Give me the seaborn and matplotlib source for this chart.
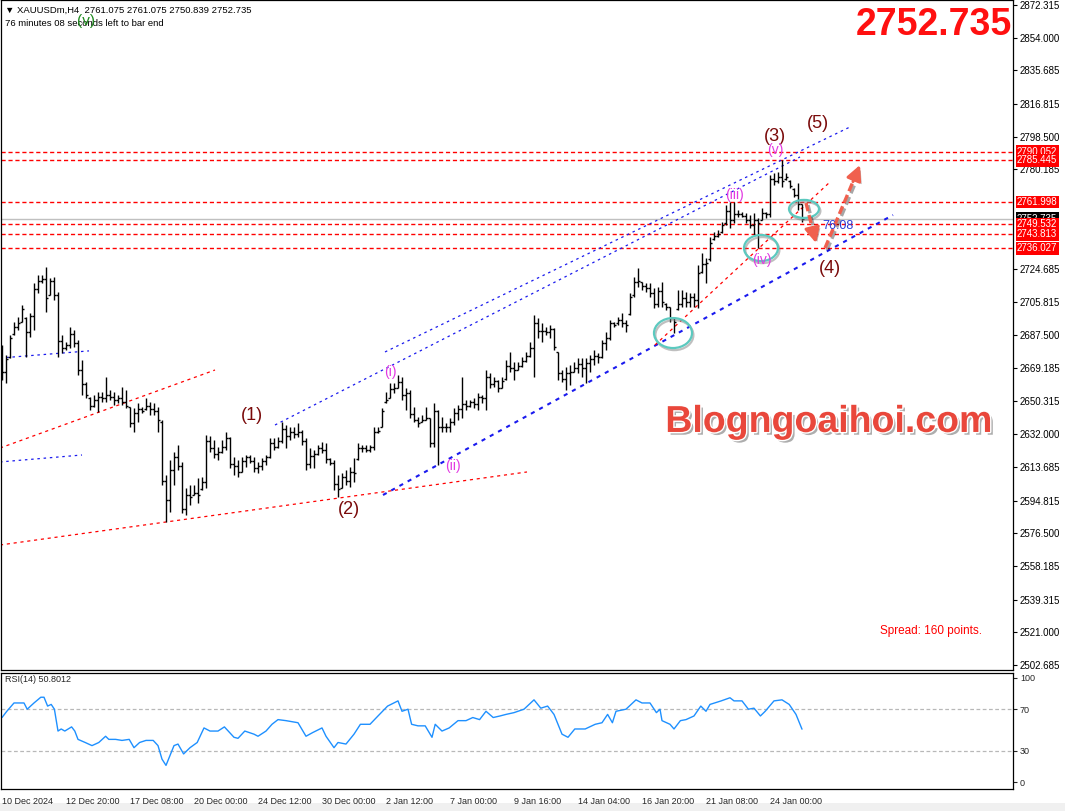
import matplotlib
matplotlib.use("Agg")
import matplotlib.pyplot as plt
import matplotlib.patheffects as pe
from matplotlib.patches import Ellipse, Rectangle
from matplotlib.transforms import blended_transform_factory
import seaborn as sns

# ---------------- data ----------------
highs = [
    2681.9, 2676.3, 2687.5, 2694.8, 2697.6, 2704.3, 2697.6, 2699.8, 2716.6, 2721.1,
    2721.1, 2725.6, 2719.4, 2720.0, 2711.6, 2687.5, 2683.6, 2692.0, 2690.3, 2684.7,
    2673.5, 2661.2, 2652.8, 2653.9, 2655.6, 2655.6, 2664.0, 2656.7, 2655.6, 2653.9,
    2658.4, 2656.7, 2647.2, 2646.6, 2649.4, 2647.2, 2652.2, 2650.0, 2649.4, 2647.2,
    2639.9, 2609.1, 2617.5, 2622.0, 2625.9, 2616.4, 2601.8, 2603.5, 2603.5, 2607.4,
    2608.0, 2631.5, 2630.9, 2628.7, 2624.8, 2628.7, 2633.2, 2630.4, 2619.2, 2617.5,
    2619.2, 2620.3, 2620.3, 2619.2, 2616.4, 2618.6, 2620.3, 2629.8, 2629.8, 2630.4,
    2638.8, 2637.1, 2636.0, 2636.0, 2638.2, 2634.3, 2629.8, 2624.2, 2623.1, 2625.9,
    2627.6, 2627.0, 2618.6, 2617.5, 2609.1, 2610.2, 2611.9, 2613.6, 2618.6, 2627.0,
    2625.9, 2625.9, 2625.9, 2636.0, 2636.0, 2646.6, 2655.6, 2660.6, 2660.6, 2665.1,
    2664.0, 2657.8, 2656.7, 2647.2, 2641.6, 2642.7, 2647.2, 2641.0, 2649.4, 2645.5,
    2641.6, 2638.2, 2641.0, 2646.6, 2648.3, 2664.0, 2651.1, 2651.1, 2652.2, 2655.0,
    2653.9, 2667.9, 2666.2, 2664.0, 2662.3, 2664.0, 2673.5, 2678.0, 2672.4, 2672.4,
    2675.2, 2678.0, 2683.6, 2698.7, 2697.0, 2694.2, 2692.0, 2693.1, 2691.4, 2678.0,
    2667.9, 2669.6, 2670.7, 2672.4, 2674.6, 2674.6, 2674.6, 2676.3, 2679.1, 2677.4,
    2684.7, 2689.2, 2695.9, 2694.8, 2697.6, 2699.8, 2695.9, 2711.0, 2720.0, 2725.0,
    2717.2, 2716.6, 2716.6, 2713.8, 2714.4, 2717.2, 2705.4, 2703.2, 2697.0, 2712.7,
    2712.7, 2711.6, 2711.0, 2711.0, 2726.7, 2733.4, 2730.6, 2742.4, 2745.2, 2746.3,
    2750.8, 2760.3, 2762.0, 2762.0, 2757.5, 2756.4, 2755.8, 2754.7, 2755.8, 2753.0,
    2758.6, 2756.4, 2777.1, 2778.2, 2778.8, 2785.5, 2778.2, 2774.3, 2769.8, 2772.6,
    2761.075,
]
lows = [
    2662.3, 2660.6, 2674.6, 2687.5, 2690.3, 2694.8, 2675.2, 2686.4, 2690.3, 2711.0,
    2716.6, 2700.4, 2709.9, 2707.1, 2675.2, 2677.4, 2679.1, 2680.2, 2680.8, 2665.1,
    2653.9, 2652.2, 2645.5, 2647.2, 2644.4, 2650.0, 2650.0, 2651.1, 2648.3, 2649.4,
    2648.3, 2646.6, 2636.0, 2633.2, 2638.8, 2643.8, 2645.5, 2642.7, 2642.7, 2633.2,
    2603.5, 2582.8, 2588.4, 2603.5, 2611.9, 2587.8, 2586.7, 2592.3, 2597.9, 2593.4,
    2600.7, 2601.8, 2622.0, 2618.6, 2617.5, 2621.4, 2623.1, 2613.0, 2609.1, 2608.0,
    2610.8, 2613.6, 2615.8, 2610.8, 2610.2, 2611.9, 2614.7, 2618.6, 2623.1, 2624.2,
    2627.0, 2624.2, 2628.7, 2629.8, 2630.4, 2625.9, 2611.9, 2613.0, 2613.0, 2620.3,
    2621.4, 2615.8, 2614.7, 2600.7, 2596.8, 2601.8, 2603.5, 2602.4, 2605.2, 2617.5,
    2622.0, 2622.0, 2622.0, 2623.1, 2632.6, 2636.0, 2649.4, 2652.2, 2655.0, 2657.8,
    2651.1, 2645.5, 2641.0, 2638.8, 2636.0, 2638.8, 2639.9, 2624.8, 2624.8, 2614.7,
    2633.2, 2633.2, 2633.2, 2637.1, 2639.9, 2641.0, 2645.5, 2647.2, 2646.6, 2645.5,
    2649.4, 2645.5, 2657.8, 2658.4, 2655.6, 2657.8, 2662.3, 2666.8, 2662.3, 2667.9,
    2669.6, 2672.4, 2675.2, 2664.0, 2685.8, 2683.6, 2687.5, 2685.8, 2679.1, 2662.3,
    2661.2, 2656.7, 2659.5, 2666.8, 2666.2, 2664.0, 2660.6, 2666.8, 2670.7, 2671.8,
    2674.6, 2679.1, 2684.7, 2692.0, 2693.1, 2692.0, 2689.2, 2698.7, 2709.0, 2714.4,
    2712.7, 2711.6, 2708.8, 2702.6, 2703.2, 2703.2, 2701.5, 2694.8, 2688.6, 2701.5,
    2703.2, 2703.2, 2703.2, 2703.2, 2702.6, 2722.2, 2716.6, 2729.0, 2740.7, 2742.4,
    2744.6, 2749.1, 2747.4, 2750.2, 2753.6, 2753.6, 2750.2, 2747.4, 2743.5, 2736.2,
    2751.9, 2753.0, 2753.6, 2771.5, 2772.6, 2770.4, 2774.3, 2769.8, 2764.8, 2757.5,
    2750.839,
]
opens = [
    2672, 2667, 2675, 2688, 2692, 2695, 2697, 2689, 2698, 2713,
    2718, 2719, 2710, 2718, 2710, 2684, 2680, 2682, 2688, 2683,
    2668, 2660, 2652, 2648, 2651, 2653, 2652, 2654, 2653, 2651,
    2652, 2650, 2647, 2638, 2644, 2646, 2646, 2648, 2646, 2645,
    2639, 2606, 2595, 2612, 2619, 2614, 2590, 2598, 2598, 2599,
    2601, 2605, 2628, 2624, 2621, 2622, 2625, 2630, 2615, 2614,
    2611, 2617, 2619, 2617, 2613, 2614, 2617, 2619, 2627, 2625,
    2628, 2635, 2631, 2633, 2632, 2633, 2628, 2615, 2620, 2621,
    2624, 2623, 2618, 2616, 2604, 2602, 2608, 2606, 2611, 2618,
    2624, 2624, 2623, 2625, 2633, 2636, 2650, 2652.5, 2657, 2658,
    2661, 2654, 2655, 2643, 2640, 2639, 2640, 2641, 2627, 2645,
    2636, 2636, 2636, 2639, 2644, 2646, 2649, 2648, 2650, 2649,
    2653, 2652, 2664, 2660, 2662, 2658, 2663, 2670, 2669, 2668,
    2670, 2673, 2676, 2680, 2694, 2690, 2690, 2689, 2691, 2678,
    2666, 2663, 2666, 2667, 2669, 2671, 2669, 2672, 2674, 2676,
    2675, 2683, 2686, 2694, 2694, 2696, 2694, 2699, 2710, 2717,
    2717, 2715, 2714, 2711, 2705, 2712, 2705, 2703, 2697, 2702,
    2705, 2708, 2706, 2709, 2707, 2723, 2727, 2730, 2741, 2743,
    2745, 2750, 2757, 2752, 2755, 2755, 2754, 2752, 2749, 2752,
    2752, 2756, 2755, 2775, 2774, 2776, 2775, 2774, 2769.5, 2766,
    2761.075,
]
closes = [
    2667, 2674, 2686, 2692, 2694, 2702, 2689, 2698, 2713, 2718,
    2719, 2708, 2718, 2710, 2684, 2680, 2682, 2688, 2683, 2668,
    2660, 2654, 2648, 2651, 2653, 2652, 2654, 2653, 2651, 2652,
    2650, 2648, 2638, 2644, 2646, 2645, 2648, 2646, 2645, 2640,
    2606, 2595, 2612, 2619, 2614, 2590, 2598, 2597, 2599, 2598,
    2605, 2628, 2624, 2621, 2622, 2625, 2630, 2615, 2614, 2611,
    2617, 2619, 2617, 2613, 2614, 2617, 2619, 2627, 2625, 2628,
    2635, 2631, 2633, 2632, 2633, 2628, 2615, 2620, 2621, 2624,
    2623, 2618, 2616, 2604, 2601, 2608, 2606, 2611, 2610, 2624,
    2624, 2623, 2625, 2633, 2634, 2645, 2651, 2657, 2658, 2661,
    2654, 2655, 2643, 2640, 2638, 2640, 2641, 2627, 2645, 2636,
    2636, 2636, 2639, 2644, 2646, 2649, 2648, 2650, 2649, 2653,
    2652, 2664, 2660, 2662, 2658, 2662, 2670, 2669, 2668, 2670,
    2673, 2676, 2680, 2694, 2690, 2690, 2689, 2691, 2681, 2666,
    2663, 2666, 2667, 2669, 2671, 2669, 2672, 2674, 2676, 2675,
    2683, 2686, 2694, 2693, 2696, 2694, 2693, 2709, 2717, 2718,
    2715, 2714, 2711, 2705, 2712, 2706, 2703, 2697, 2695, 2705,
    2708, 2706, 2709, 2707, 2722, 2727, 2728, 2739, 2743, 2744,
    2749, 2757, 2752, 2755, 2755, 2754, 2752, 2749, 2752, 2750,
    2756, 2755, 2775, 2774, 2776, 2774, 2776, 2771, 2766, 2761.075,
    2752.735,
]

# RSI(14) read at sample bars
rsi_idx = [0, 1.2, 3, 5.5, 6.3, 8, 9.7, 10.5, 11.4, 12.3, 13.1, 14, 14.8, 15.7, 17.4, 18.2,
           19, 20.8, 22.5, 24.2, 25.9, 26.7, 28.4, 30, 31.8, 33, 34.4, 36, 37.8, 39, 40, 41,
           43, 44, 45.4, 47, 48.8, 50.5, 52, 54, 55.6, 58, 59, 60.7, 63, 64, 66, 67.5, 69, 71,
           74, 76, 77.7, 80, 81, 83, 84, 86, 88, 89.6, 92, 94, 96.4, 99, 100, 101.5, 102.4,
           104, 105.8, 107.5, 108.3, 110, 111.8, 114, 116, 117.7, 119.4, 121, 122.8, 124.5,
           126, 128, 130.5, 133, 134.7, 136.4, 138, 140, 141.5, 143.2, 145.8, 148.3, 150,
           151.4, 152.6, 153.5, 156, 158.5, 160, 162, 163.6, 164.5, 165, 167, 168, 169.6,
           171, 173, 174.7, 176, 177, 179.8, 182, 183, 185, 186.6, 188, 189.6, 190.8, 193,
           195, 196.8, 198.5, 200]
rsi_val = [62, 68, 76, 76, 70, 76, 81.5, 81.5, 73, 74.6, 70, 49, 51, 49, 53, 49,
           41, 38, 35, 38, 44, 41, 41, 40, 41, 33, 38, 40, 40, 35, 22, 16,
           35, 36.5, 27, 33, 38, 52, 49, 49, 53, 43, 42, 49, 46, 44, 49, 55.5, 60, 59,
           57, 44, 47.6, 52, 44, 33, 38, 36.5, 46, 55.5, 55.5, 63.5, 73, 78, 68, 70, 55.5,
           54, 54, 43, 55.5, 49, 52, 59, 59, 62, 60, 68, 62, 63.5,
           65, 66.7, 70, 79, 71, 73, 65, 46, 43, 51, 51, 55.5, 57,
           65, 57, 68, 70, 79, 76, 76, 66.7, 70, 59, 55.5, 51, 59,
           60, 63.5, 73, 68, 74.6, 78, 81, 78, 78, 70, 71, 63.5, 68, 78,
           79, 74.6, 65, 50.8]

price_ticks = [2872.315, 2854.000, 2835.685, 2816.815, 2798.500, 2780.185, 2724.685,
               2705.815, 2687.500, 2669.185, 2650.315, 2632.000, 2613.685, 2594.815,
               2576.500, 2558.185, 2539.315, 2521.000, 2502.685]
date_tick_idx = [0, 16, 32, 48, 64, 80, 96, 112, 128, 144, 160, 176, 192]
date_labels = ["10 Dec 2024", "12 Dec 20:00", "17 Dec 08:00", "20 Dec 00:00", "24 Dec 12:00",
               "30 Dec 00:00", "2 Jan 12:00", "7 Jan 00:00", "9 Jan 16:00", "14 Jan 04:00",
               "16 Jan 20:00", "21 Jan 08:00", "24 Jan 00:00"]
levels = [2790.052, 2785.445, 2761.998, 2749.532, 2743.813, 2736.027]
bid = 2752.735

# trend lines (bar index, price)
blue_lines = [((95.75, 2678.0), (212.0, 2804.0)),
              ((68.25, 2637.1), (199.5, 2787.2)),
              ((-0.5, 2674.6), (21.75, 2678.6)),
              ((-0.5, 2616.4), (20.0, 2620.3))]
blue_heavy = [((95.25, 2597.9), (222.75, 2754.7))]
red_lines = [((-0.5, 2624.2), (53.25, 2667.9)),
             ((-0.5, 2569.9), (131.25, 2610.8)),
             ((163.25, 2681.9), (207.0, 2773.2))]
arrows = [((201.0, 2761.4), (203.5, 2739.0)),
          ((205.75, 2736.2), (214.5, 2782.7))]
circles = [((167.75, 2688.6), 9.5, 16.8), ((189.75, 2736.2), 8.5, 14.6), ((200.5, 2758.1), 7.5, 10.1)]
wave_labels = [("(1)", 62.5, 2642.7), ("(2)", 86.75, 2589.5), ("(3)", 193.25, 2798.9),
               ("(4)", 207.0, 2725.0), ("(5)", 204.0, 2805.7)]
sub_labels = [("(i)", 97.0, 2666.8), ("(ii)", 112.75, 2614.2), ("(iii)", 183.25, 2765.9),
              ("(iv)", 190.0, 2729.5), ("(v)", 193.25, 2791.1)]

# ---------------- figure ----------------
sns.set_style("white")
plt.rcParams['font.family'] = ['Liberation Sans', 'DejaVu Sans']

W, H = 1065, 811
fig = plt.figure(figsize=(W / 100, H / 100), dpi=100)
fig.patch.set_facecolor("white")
fig.patches.append(Rectangle((0, 0), 1, 8 / H, transform=fig.transFigure, fc="#f0f0f0", ec="none", zorder=-5))

ax = fig.add_axes([1 / W, 1 - 670 / H, 1012 / W, 670 / H])
axr = fig.add_axes([1 / W, 1 - 789 / H, 1012 / W, 116 / H])

XL = (-0.25, 252.75)
for a in (ax, axr):
    a.set_xlim(*XL)
    a.set_facecolor("white")
    for s in a.spines.values():
        s.set_color("black")
        s.set_linewidth(0.9)

ax.set_ylim(2499.9, 2875.1)

# levels & bid line
for lv in levels:
    ax.axhline(lv, color="red", lw=1.0, ls=(0, (3, 2)), zorder=2)
ax.axhline(bid, color="#c0c0c0", lw=1.0, zorder=1)

# trend lines
for (x0, y0), (x1, y1) in blue_lines:
    ax.plot([x0, x1], [y0, y1], color="#1a1aee", lw=0.9, ls=(0, (2, 3)), zorder=2)
for (x0, y0), (x1, y1) in blue_heavy:
    ax.plot([x0, x1], [y0, y1], color="#1a1aee", lw=1.5, ls=(0, (2, 2.5)), zorder=2)
for (x0, y0), (x1, y1) in red_lines:
    ax.plot([x0, x1], [y0, y1], color="red", lw=0.9, ls=(0, (2.5, 3)), zorder=2)

# OHLC bars
idx = list(range(len(closes)))
ax.vlines(idx, lows, highs, color="black", lw=1.0, zorder=3)
ax.hlines(opens, [i - 0.5 for i in idx], idx, color="black", lw=1.0, zorder=3)
ax.hlines(closes, idx, [i + 0.5 for i in idx], color="black", lw=1.0, zorder=3)

# circles
for (c, w, h) in circles:
    e = Ellipse(c, w, h, fill=False, ec="#5cc9bf", lw=1.6, zorder=4,
                path_effects=[pe.SimpleLineShadow(offset=(1, -1.5), shadow_color="gray", alpha=0.5), pe.Normal()])
    ax.add_patch(e)

# arrows
for (x0, y0), (x1, y1) in arrows:
    fx = x0 + 0.8 * (x1 - x0)
    fy = y0 + 0.8 * (y1 - y0)
    ax.plot([x0, fx], [y0, fy], color="#f0604e", lw=2.4, ls=(0, (2.5, 1.2)), zorder=5,
            path_effects=[pe.SimpleLineShadow(offset=(1.5, -1.5), alpha=0.35), pe.Normal()])
    ann = ax.annotate("", xy=(x1, y1), xytext=(fx, fy), zorder=5,
                      arrowprops=dict(arrowstyle="-|>,head_width=0.45,head_length=0.9",
                                      color="#f0604e", lw=2.2, shrinkA=0, shrinkB=0))
    ann.arrow_patch.set_path_effects([pe.SimplePatchShadow(offset=(1.5, -1.5), alpha=0.35), pe.Normal()])

# wave labels
for t, x, y in wave_labels:
    ax.text(x, y, t, color="#7a0a0a", fontsize=13, ha="center", va="center", zorder=6)
for t, x, y in sub_labels:
    ax.text(x, y, t, color="#e23ae2", fontsize=10, ha="center", va="center", zorder=6)

ax.text(209.0, 2748.4, "76.08", color="#2a3ad6", fontsize=9, ha="center", va="center", zorder=6)

# watermark
ax.text(206.75, 2638.8, "Blogngoaihoi.com", color="#e9473b", fontsize=27, fontweight="bold",
        ha="center", va="center", zorder=6,
        path_effects=[pe.SimplePatchShadow(offset=(2, -2), shadow_rgbFace="#777777", alpha=0.6),
                      pe.Stroke(linewidth=2, foreground="white"), pe.Normal()])

ax.text(982, 631, "Spread: 160 points.", transform=None, color="red", fontsize=8.5,
        ha="right", va="center") if False else None
fig.text(982 / W, 1 - 631 / H, "Spread: 160 points.", color="red", fontsize=8.5,
         ha="right", va="center")

# axis ticks main
ax.set_xticks([])
ax.yaxis.tick_right()
ax.set_yticks(price_ticks)
ax.set_yticklabels([f"{t:.3f}" for t in price_ticks])
ax.tick_params(axis="y", direction="out", length=3, width=0.8, labelsize=7, pad=2, colors="black")

# level boxes on right axis
bt = blended_transform_factory(ax.transAxes, ax.transData)
ax.text(1.004, bid, f"{bid:.3f}", transform=bt, color="white", fontsize=7, ha="left", va="center",
        bbox=dict(boxstyle="square,pad=0.15", fc="black", ec="none"), clip_on=False, zorder=7)
for lv in levels:
    ax.text(1.004, lv, f"{lv:.3f}", transform=bt, color="white", fontsize=7, ha="left", va="center",
            bbox=dict(boxstyle="square,pad=0.15", fc="red", ec="none"), clip_on=False, zorder=8)

# header texts
fig.text(5 / W, 1 - 10 / H, "▼ XAUUSDm,H4  2761.075 2761.075 2750.839 2752.735", fontsize=6.8,
         ha="left", va="center", color="black")
fig.text(5 / W, 1 - 24 / H, "76 minutes 08 seconds left to bar end", fontsize=6.8,
         ha="left", va="center", color="black")
fig.text(86 / W, 1 - 21 / H, "(v)", fontsize=11, color="#1e8a1e", ha="center", va="center")
fig.text(1012 / W, 1 - 25 / H, "2752.735", fontsize=27, fontweight="bold", color="#ff1010",
         ha="right", va="center")

# ---------------- RSI panel ----------------
axr.set_ylim(-6.7, 104.8)
for lv in (70, 30):
    axr.axhline(lv, color="#b8b8b8", lw=0.9, ls=(0, (3, 2)))
sns.lineplot(x=rsi_idx, y=rsi_val, ax=axr, color="#1e90ff", lw=1.0, sort=True)
axr.yaxis.tick_right()
axr.set_yticks([0, 30, 70, 100])
axr.set_yticklabels(["0", "30", "70", "100"])
axr.tick_params(axis="y", direction="out", length=3, width=0.8, labelsize=6.5, pad=2)
axr.set_xticks(date_tick_idx)
axr.set_xticklabels(date_labels, ha="left")
axr.tick_params(axis="x", direction="out", length=4, width=0.8, labelsize=6.5, pad=2)
axr.set_xlabel("")
axr.set_ylabel("")
axr.text(4 / 1012, 1 - 7 / 116, "RSI(14) 50.8012", transform=axr.transAxes, fontsize=6.5,
         ha="left", va="center")

fig.savefig("out.png", dpi=100)
